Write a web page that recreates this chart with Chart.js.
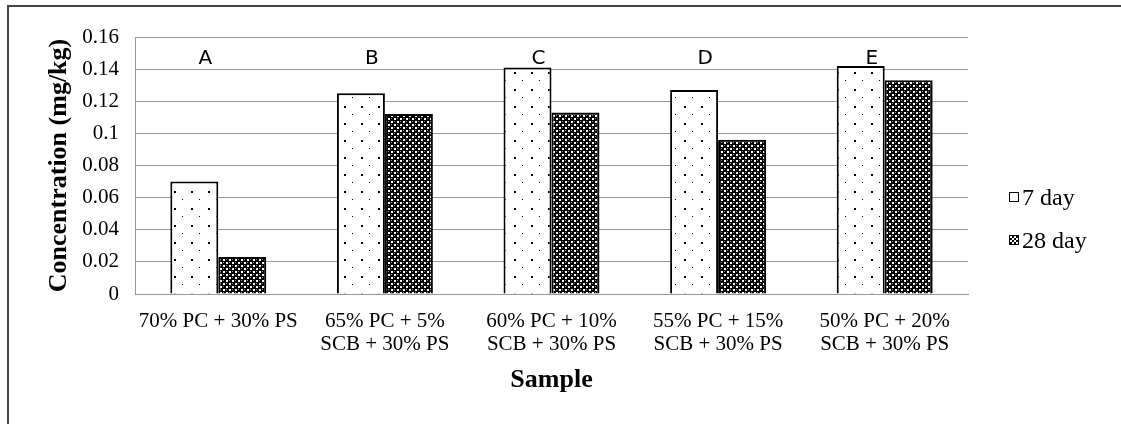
<!DOCTYPE html>
<html>
<head>
<meta charset="utf-8">
<script src="https://cdn.jsdelivr.net/npm/chart.js@4.4.1/dist/chart.umd.min.js"></script>
<style>
  html, body { margin: 0; padding: 0; background: #fff; }
  #wrap { position: relative; width: 1121px; height: 424px; overflow: hidden; }
  #frame { position: absolute; left: 7px; top: 5px; width: 1200px; height: 500px; border-left: 2px solid #444; border-top: 2px solid #444; }
  #chartBox { position: absolute; left: 0; top: 0; width: 1121px; height: 424px; }
  .leg { position: absolute; left: 1009px; font-family: "Liberation Serif", "Times New Roman", serif; font-size: 24px; line-height: 24px; color: #000; display: flex; align-items: center; }
  .leg span.box { display: inline-block; width: 8px; height: 8px; border: 1px solid #000; margin-right: 3px; }
</style>
</head>
<body>
<div id="wrap">
  <div id="frame"></div>
  <div id="chartBox"><canvas id="concChart"></canvas></div>
  <div class="leg" style="top:185px;"><span class="box" id="box7"></span>7 day</div>
  <div class="leg" style="top:228px;"><span class="box" id="box28"></span>28 day</div>
</div>
<script>
const samples = [
    ['70% PC + 30% PS'],
    ['65% PC + 5%', 'SCB + 30% PS'],
    ['60% PC + 10%', 'SCB + 30% PS'],
    ['55% PC + 15%', 'SCB + 30% PS'],
    ['50% PC + 20%', 'SCB + 30% PS']
];
const groupLetters = ['A', 'B', 'C', 'D', 'E'];
const day7 = [0.070, 0.125, 0.141, 0.127, 0.142];
const day28 = [0.023, 0.112, 0.113, 0.096, 0.133];

function dotPattern() {
    const c = document.createElement('canvas');
    c.width = 17; c.height = 17;
    const g = c.getContext('2d');
    g.fillStyle = '#fff';
    g.fillRect(0, 0, 17, 17);
    g.fillStyle = '#000';
    g.fillRect(4, 4, 2, 2);
    g.fillRect(12, 12, 1, 1);
    return g.createPattern(c, 'repeat');
}

function checkPattern() {
    const c = document.createElement('canvas');
    c.width = 6; c.height = 6;
    const g = c.getContext('2d');
    g.fillStyle = '#000';
    g.fillRect(0, 0, 6, 6);
    g.fillStyle = '#fff';
    g.fillRect(1, 1, 2, 2);
    g.fillRect(4, 4, 2, 2);
    g.fillStyle = '#888';
    g.fillRect(4, 1, 1, 1);
    g.fillRect(1, 4, 1, 1);
    return g.createPattern(c, 'repeat');
}

document.getElementById('box28').style.background = 'repeating-conic-gradient(#000 0 25%, #fff 0 50%) 0 0 / 4px 4px';

// letters A-E above each group
const letterPlugin = {
    id: 'letters',
    afterDatasetsDraw(chart) {
        const ctx = chart.ctx;
        const x = chart.scales.x, y = chart.scales.y;
        ctx.save();
        ctx.fillStyle = '#000';
        ctx.font = '20px "DejaVu Sans", "Open Sans", sans-serif';
        ctx.textAlign = 'center';
        ctx.textBaseline = 'middle';
        groupLetters.forEach((l, i) => {
            ctx.fillText(l, x.getPixelForValue(i) - 13, y.getPixelForValue(0.1465));
        });
        ctx.restore();
    }
};

const serif = '"Liberation Serif", "Times New Roman", serif';

new Chart(document.getElementById('concChart').getContext('2d'), {
    type: 'bar',
    data: {
        labels: samples,
        datasets: [{
            label: '7 day',
            data: day7,
            backgroundColor: dotPattern(),
            borderColor: '#000',
            borderWidth: 2,
            borderSkipped: 'bottom'
        },
        {
            label: '28 day',
            data: day28,
            backgroundColor: checkPattern(),
            borderColor: '#000',
            borderWidth: 2,
            borderSkipped: 'bottom'
        }]
    },
    options: {
        responsive: true,
        maintainAspectRatio: false,
        animation: false,
        layout: { padding: { left: 0, right: 153, top: 37, bottom: 0 } },
        categoryPercentage: 0.576,
        barPercentage: 1.0,
        plugins: {
            legend: { display: false },
            tooltip: { enabled: false }
        },
        scales: {
            y: {
                min: 0,
                max: 0.16,
                afterFit(s) { s.width = 135; },
                ticks: {
                    stepSize: 0.02,
                    color: '#000',
                    padding: 16,
                    font: { family: serif, size: 21 },
                    callback: v => String(parseFloat(v.toFixed(2)))
                },
                grid: { color: '#999', lineWidth: 1, tickLength: 0 },
                border: { color: '#999' },
                title: {
                    display: true,
                    text: 'Concentration (mg/kg)',
                    color: '#000',
                    font: { family: serif, size: 26, weight: 'bold' },
                    padding: { top: 44, bottom: 0 }
                }
            },
            x: {
                afterFit(s) { s.height = 130; },
                ticks: {
                    color: '#000',
                    padding: 8,
                    maxRotation: 0,
                    font: { family: serif, size: 21, lineHeight: 1.1 }
                },
                grid: { display: false },
                border: { color: '#999' },
                title: {
                    display: true,
                    text: 'Sample',
                    color: '#000',
                    font: { family: serif, size: 26, weight: 'bold' },
                    padding: { top: 0, bottom: 28 }
                }
            }
        }
    },
    plugins: [letterPlugin]
});
</script>
</body>
</html>
